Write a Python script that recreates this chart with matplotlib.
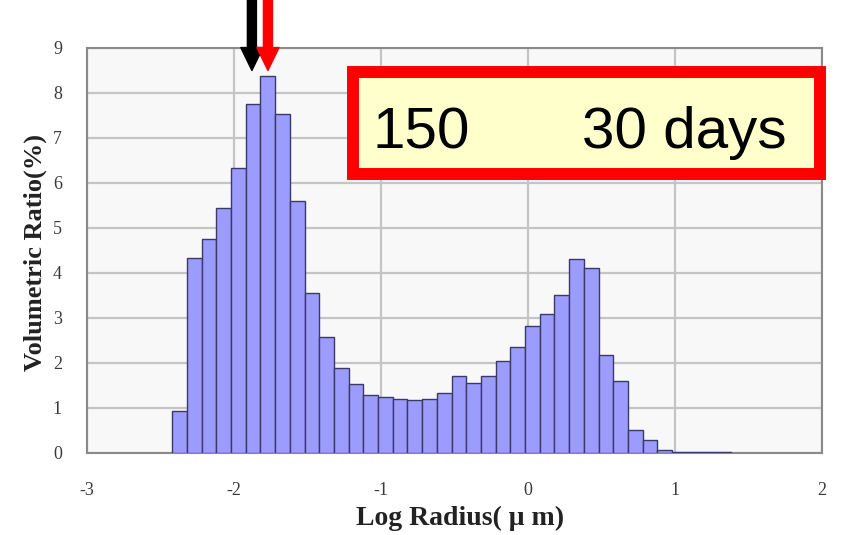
import matplotlib
matplotlib.use("Agg")
import matplotlib.pyplot as plt
from matplotlib.patches import Rectangle

# bin centres (log radius) and volumetric ratio (%)
log_radius = [-2.37, -2.27, -2.17, -2.07, -1.97, -1.87, -1.77, -1.67, -1.57, -1.47,
              -1.37, -1.27, -1.17, -1.07, -0.97, -0.87, -0.77, -0.67, -0.57, -0.47,
              -0.37, -0.27, -0.17, -0.07, 0.03, 0.13, 0.23, 0.33, 0.43, 0.53,
              0.63, 0.73, 0.83, 0.93, 1.03, 1.13, 1.23, 1.33]
vol_ratio = [0.93, 4.34, 4.75, 5.45, 6.34, 7.75, 8.38, 7.53, 5.59, 3.55,
             2.58, 1.89, 1.53, 1.29, 1.24, 1.20, 1.18, 1.21, 1.34, 1.71,
             1.55, 1.70, 2.04, 2.36, 2.83, 3.09, 3.52, 4.32, 4.10, 2.18,
             1.61, 0.51, 0.29, 0.07, 0.03, 0.02, 0.02, 0.02]
bin_width = 0.1

x_ticks = [-3, -2, -1, 0, 1, 2]
y_ticks = list(range(10))

# arrows marking the peak (black and red)
arrow_x = [-1.878, -1.769]
arrow_colors = ["black", "red"]
arrow_tip = 8.5
arrow_top = 10.06

fig = plt.figure(figsize=(8.46, 5.35), dpi=100)
ax = fig.add_axes([0.1028, 0.1533, 0.8688, 0.757])
ax.set_facecolor("#F8F8F8")

ax.bar(log_radius, vol_ratio, width=bin_width, color="#9C9CFF",
       edgecolor="#3A3A66", linewidth=1.0, zorder=3)

ax.set_xlim(-3, 2)
ax.set_ylim(0, 9)
ax.set_xticks(x_ticks)
ax.set_yticks(y_ticks)
ax.set_xticklabels([str(t) for t in x_ticks], family="Liberation Serif",
                   fontsize=13, color="#3A3A3A")
ax.set_yticklabels([str(t) for t in y_ticks], family="Liberation Serif",
                   fontsize=13, color="#3A3A3A")
ax.tick_params(axis="both", length=0)
ax.tick_params(axis="x", pad=21)
ax.tick_params(axis="y", pad=18)
ax.grid(True, color="#C4C4C4", linewidth=1.6, zorder=0)
ax.set_axisbelow(True)
for s in ax.spines.values():
    s.set_color("#8A8A8A")
    s.set_linewidth(1.5)

ax.set_xlabel("Log Radius( μ m)", family="Liberation Serif", fontsize=20,
              fontweight="bold", color="#222222", va="baseline")
ax.xaxis.set_label_coords(0.5075, -0.178)
ax.set_ylabel("Volumetric Ratio(%)", family="Liberation Serif", fontsize=19,
              fontweight="bold", color="#222222", va="center")
ax.yaxis.set_label_coords(-0.0707, 0.496)

# label box
box = Rectangle((0.3619, 0.6889), 0.6354, 0.2518, transform=ax.transAxes,
                facecolor="#FFFFCC", edgecolor="#FF0000", linewidth=8.6,
                clip_on=False, zorder=5)
ax.add_patch(box)
ax.text(0.389, 0.752, "150", transform=ax.transAxes, family="Liberation Sans",
        fontsize=42, va="baseline", ha="left", zorder=6)
ax.text(0.6735, 0.752, "30 days", transform=ax.transAxes, family="Liberation Sans",
        fontsize=42, va="baseline", ha="left", zorder=6)

for xa, c in zip(arrow_x, arrow_colors):
    ax.annotate("", xy=(xa, arrow_tip), xytext=(xa, arrow_top),
                annotation_clip=False,
                arrowprops=dict(arrowstyle="simple,head_width=1.6,head_length=1.65,tail_width=0.65",
                                color=c, shrinkA=0, shrinkB=0, mutation_scale=10),
                zorder=7)

fig.savefig("out.png", dpi=100)
